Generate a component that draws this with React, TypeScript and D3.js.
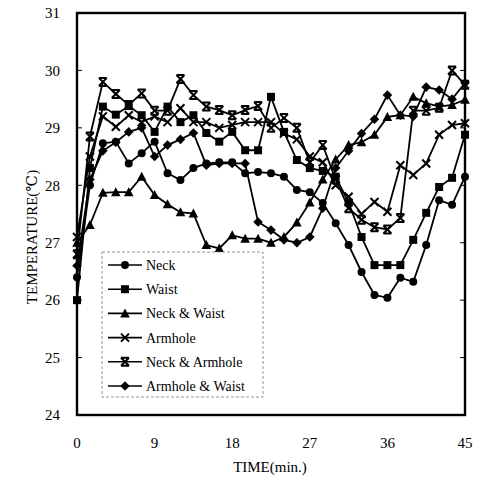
import { useMemo } from "react";
import * as d3 from "d3";

const WIDTH = 488;
const HEIGHT = 485;
const FRAME = { left: 77, right: 465, top: 13, bottom: 415 };
const FONT = "'Liberation Serif', 'DejaVu Serif', 'Times New Roman', serif";

// time in minutes, one reading every 1.5 min
const TIMES = [
  0, 1.5, 3, 4.5, 6, 7.5, 9, 10.5, 12, 13.5, 15, 16.5, 18, 19.5, 21, 22.5,
  24, 25.5, 27, 28.5, 30, 31.5, 33, 34.5, 36, 37.5, 39, 40.5, 42, 43.5, 45,
];

const X_TICKS = [0, 9, 18, 27, 36, 45];
const Y_TICKS = [24, 25, 26, 27, 28, 29, 30, 31];

const NECK = [
  26.4, 28.0, 28.73, 28.76, 28.38, 28.56, 28.76, 28.21, 28.09, 28.3, 28.38,
  28.4, 28.4, 28.21, 28.23, 28.21, 28.15, 27.92, 27.88, 27.69, 27.34, 26.96,
  26.49, 26.09, 26.04, 26.39, 26.32, 26.96, 27.74, 27.66, 28.15,
];
const WAIST = [
  26.0, 28.3, 29.37, 29.23, 29.38, 29.22, 28.93, 29.37, 29.1, 29.22, 28.91,
  28.76, 28.93, 28.61, 28.61, 29.54, 28.93, 28.44, 28.3, 28.25, 28.15, 27.7,
  27.1, 26.61, 26.61, 26.61, 27.05, 27.52, 27.97, 28.13, 28.88,
];
const NECK_WAIST = [
  27.0, 27.31, 27.87, 27.88, 27.88, 28.15, 27.83, 27.67, 27.53, 27.51, 26.96,
  26.9, 27.13, 27.07, 27.07, 27.0, 27.1, 27.35, 27.7, 28.1, 28.45, 28.7,
  28.75, 28.88, 29.19, 29.22, 29.54, 29.43, 29.37, 29.4, 29.49,
];
const ARMHOLE = [
  27.1, 28.5, 29.2, 29.02, 29.22, 29.1, 29.2, 29.1, 29.34, 29.1, 29.1, 29.0,
  29.05, 29.1, 29.1, 29.1, 28.9, 28.8, 28.5, 28.4, 28.0, 27.8, 27.5, 27.71,
  27.54, 28.35, 28.18, 28.38, 28.88, 29.05, 29.08,
];
const NECK_ARMHOLE = [
  26.8, 28.85, 29.8, 29.59, 29.4, 29.6, 29.3, 29.3, 29.85, 29.57, 29.37,
  29.31, 29.22, 29.31, 29.38, 29.0, 29.17, 29.0, 28.4, 28.7, 28.1, 27.6, 27.4,
  27.27, 27.23, 27.43, 29.3, 29.3, 29.35, 30.0, 29.75,
];
const ARMHOLE_WAIST = [
  26.6, 28.1, 28.6, 28.75, 28.93, 29.0, 28.5, 28.7, 28.8, 28.91, 28.35, 28.38,
  28.38, 28.38, 27.36, 27.22, 27.05, 27.0, 27.1, 27.6, 28.3, 28.6, 28.9, 29.15,
  29.57, 29.22, 29.2, 29.71, 29.66, 29.5, 29.78,
];

const SERIES = [
  { name: "Neck", values: NECK, marker: "circle" },
  { name: "Waist", values: WAIST, marker: "square" },
  { name: "Neck & Waist", values: NECK_WAIST, marker: "triangle" },
  { name: "Armhole", values: ARMHOLE, marker: "cross" },
  { name: "Neck & Armhole", values: NECK_ARMHOLE, marker: "hourglass" },
  { name: "Armhole & Waist", values: ARMHOLE_WAIST, marker: "diamond" },
];

const Marker = ({ type, x, y }: { type: string; x: number; y: number }) => {
  const s = 4;
  if (type === "circle") return <circle cx={x} cy={y} r={s} fill="#000" />;
  if (type === "square")
    return <rect x={x - s} y={y - s} width={s * 2} height={s * 2} fill="#000" />;
  if (type === "triangle")
    return (
      <path
        d={`M${x},${y - s - 1}L${x + s + 0.8},${y + s}L${x - s - 0.8},${y + s}Z`}
        fill="#000"
      />
    );
  if (type === "diamond")
    return (
      <path
        d={`M${x},${y - s - 0.8}L${x + s + 0.8},${y}L${x},${y + s + 0.8}L${x - s - 0.8},${y}Z`}
        fill="#000"
      />
    );
  if (type === "cross")
    return (
      <path
        d={`M${x - s},${y - s}L${x + s},${y + s}M${x + s},${y - s}L${x - s},${y + s}`}
        stroke="#000"
        strokeWidth={2}
      />
    );
  // cross with bars top and bottom
  return (
    <path
      d={`M${x - s},${y - s}L${x + s},${y + s}M${x + s},${y - s}L${x - s},${y + s}M${x - s},${y - s}L${x + s},${y - s}M${x - s},${y + s}L${x + s},${y + s}`}
      stroke="#000"
      strokeWidth={2}
    />
  );
};

const App = () => {
  const xScale = useMemo(
    () => d3.scaleLinear().domain([0, 45]).range([FRAME.left, FRAME.right]),
    []
  );
  const yScale = useMemo(
    () => d3.scaleLinear().domain([24, 31]).range([FRAME.bottom, FRAME.top]),
    []
  );

  const line = d3
    .line<number>()
    .x((_, i) => xScale(TIMES[i]))
    .y((d) => yScale(d));

  const legend = { x: 102, y: 252, w: 161, h: 145, row: 24.2 };

  return (
    <svg
      width={WIDTH}
      height={HEIGHT}
      style={{ position: "absolute", left: 0, top: 0, background: "#fff" }}
      fontFamily={FONT}
    >
      {/* series */}
      {SERIES.map((s) => (
        <g key={s.name}>
          <path d={line(s.values) || ""} fill="none" stroke="#000" strokeWidth={1.8} />
          {s.values.map((v, i) => (
            <Marker key={i} type={s.marker} x={xScale(TIMES[i])} y={yScale(v)} />
          ))}
        </g>
      ))}

      {/* frame */}
      <rect
        x={FRAME.left}
        y={FRAME.top}
        width={FRAME.right - FRAME.left}
        height={FRAME.bottom - FRAME.top}
        fill="none"
        stroke="#000"
        strokeWidth={2.4}
      />

      {/* inner ticks */}
      {Y_TICKS.map((t) => (
        <g key={"yt" + t}>
          <line x1={FRAME.left} x2={FRAME.left + 5} y1={yScale(t)} y2={yScale(t)} stroke="#000" strokeWidth={1} />
          <line x1={FRAME.right} x2={FRAME.right - 5} y1={yScale(t)} y2={yScale(t)} stroke="#000" strokeWidth={1} />
          <text x={60} y={yScale(t)} dy="0.35em" textAnchor="end" fontSize={15}>
            {t}
          </text>
        </g>
      ))}
      {X_TICKS.map((t) => (
        <text key={"xt" + t} x={xScale(t)} y={448} textAnchor="middle" fontSize={15}>
          {t}
        </text>
      ))}

      {/* axis titles */}
      <text x={270} y={472} textAnchor="middle" fontSize={15}>
        TIME(min.)
      </text>
      <text transform={`translate(37,237) rotate(-90)`} textAnchor="middle" fontSize={15}>
        TEMPERATURE(℃)
      </text>

      {/* legend */}
      <rect
        x={legend.x}
        y={legend.y}
        width={legend.w}
        height={legend.h}
        fill="#fff"
        stroke="#777"
        strokeWidth={0.8}
        strokeDasharray="3,2"
      />
      {SERIES.map((s, i) => {
        const cy = legend.y + 13 + i * legend.row;
        return (
          <g key={"lg" + s.name}>
            <line x1={108} x2={142} y1={cy} y2={cy} stroke="#000" strokeWidth={1.6} />
            <Marker type={s.marker} x={125} y={cy} />
            <text x={146} y={cy} dy="0.35em" fontSize={14}>
              {s.name}
            </text>
          </g>
        );
      })}
    </svg>
  );
};

export default App;
